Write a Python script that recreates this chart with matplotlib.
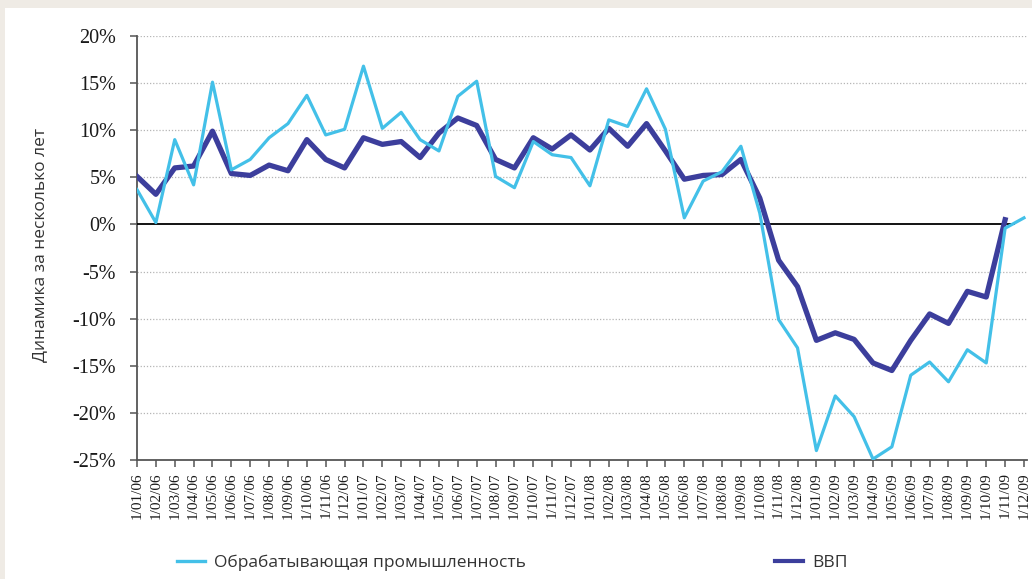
import numpy as np
import matplotlib
matplotlib.use("Agg")
import matplotlib.pyplot as plt
from matplotlib.lines import Line2D

# ---- data ----
months = [f"1/{m:02d}/{y:02d}" for y in (6, 7, 8, 9) for m in range(1, 13)]

industry = [3.7, 0.2, 9.0, 4.2, 15.1, 5.8, 6.9, 9.2, 10.7, 13.7, 9.5, 10.1,
            16.8, 10.2, 11.9, 9.0, 7.8, 13.6, 15.2, 5.1, 3.9, 8.8, 7.4, 7.1,
            4.1, 11.1, 10.4, 14.4, 10.1, 0.7, 4.6, 5.6, 8.3, 1.2, -10.1, -13.1,
            -24.0, -18.2, -20.4, -24.9, -23.6, -16.0, -14.6, -16.7, -13.3, -14.7, -0.4, 0.7]

gdp = [5.1, 3.2, 6.0, 6.2, 9.9, 5.4, 5.2, 6.3, 5.7, 9.0, 6.9, 6.0,
       9.2, 8.5, 8.8, 7.1, 9.7, 11.3, 10.5, 6.9, 6.0, 9.2, 8.0, 9.5,
       7.9, 10.2, 8.3, 10.7, 7.8, 4.8, 5.2, 5.3, 6.9, 2.8, -3.8, -6.6,
       -12.3, -11.5, -12.2, -14.7, -15.5, -12.3, -9.5, -10.5, -7.1, -7.7, 0.5, np.nan]

y_ticks = [-25, -20, -15, -10, -5, 0, 5, 10, 15, 20]
series_names = ["Обрабатывающая промышленность", "ВВП"]
y_label = "Динамика за несколько лет"

c_light = "#43c0e8"
c_dark = "#3c3e9c"
serif = ["Liberation Serif", "DejaVu Serif"]

W, H = 1032, 579
fig = plt.figure(figsize=(W / 100, H / 100), dpi=100)
fig.patch.set_facecolor("#efebe5")
fig.add_artist(plt.Rectangle((5 / W, 0), 1, 1 - 8 / H, transform=fig.transFigure,
                             facecolor="white", edgecolor="none", zorder=0))

ax = fig.add_axes([137 / W, 1 - 460 / H, (1027 - 137) / W, (460 - 36) / H])
ax.set_facecolor("white")

x = np.arange(len(months))
ax.plot(x, gdp, color=c_dark, lw=3.8, zorder=4)
ax.plot(x, industry, color=c_light, lw=2.3, zorder=5)

ax.set_xlim(0, 47.16)
ax.set_ylim(-25, 20)
ax.set_yticks(y_ticks)
ax.set_yticklabels([f"{v}%" for v in y_ticks], fontfamily=serif,
                   fontsize=14.5, color="#1a1a1a")
ax.set_xticks(x)
ax.set_xticklabels(months, rotation=90, fontfamily=serif,
                   fontsize=11, color="#1a1a1a")

for v in y_ticks:
    if v not in (0, -25):
        ax.axhline(v, color="#b5b5b5", lw=0.9, ls=(0, (1, 1.5)), zorder=1)
ax.axhline(0, xmin=0, xmax=0.985, color="black", lw=1.3, zorder=3)

for s in ("top", "right"):
    ax.spines[s].set_visible(False)
for s in ("left", "bottom"):
    ax.spines[s].set_color("#555555")
    ax.spines[s].set_linewidth(1.3)
ax.tick_params(axis="both", direction="out", length=5, width=1.1, color="#555555")
ax.tick_params(axis="y", pad=10)
ax.tick_params(axis="x", pad=4)

fig.text(40 / W, 1 - 245 / H, y_label, rotation=90, ha="center", va="center",
         fontfamily="Open Sans", fontsize=12.5, color="#333333")

h1 = Line2D([], [], color=c_light, lw=2.4)
h2 = Line2D([], [], color=c_dark, lw=3.0)
leg_kw = dict(frameon=False, loc="center left", borderpad=0, borderaxespad=0,
              handlelength=1.6, handletextpad=0.55,
              prop={"family": "Open Sans", "size": 12.5})
l1 = fig.legend([h1], [series_names[0]], bbox_to_anchor=(177 / W, 1 - 563 / H), **leg_kw)
l2 = fig.legend([h2], [series_names[1]], bbox_to_anchor=(775 / W, 1 - 563 / H), **leg_kw)
for lg in (l1, l2):
    for t in lg.get_texts():
        t.set_color("#333333")

fig.savefig("out.png", dpi=100)
